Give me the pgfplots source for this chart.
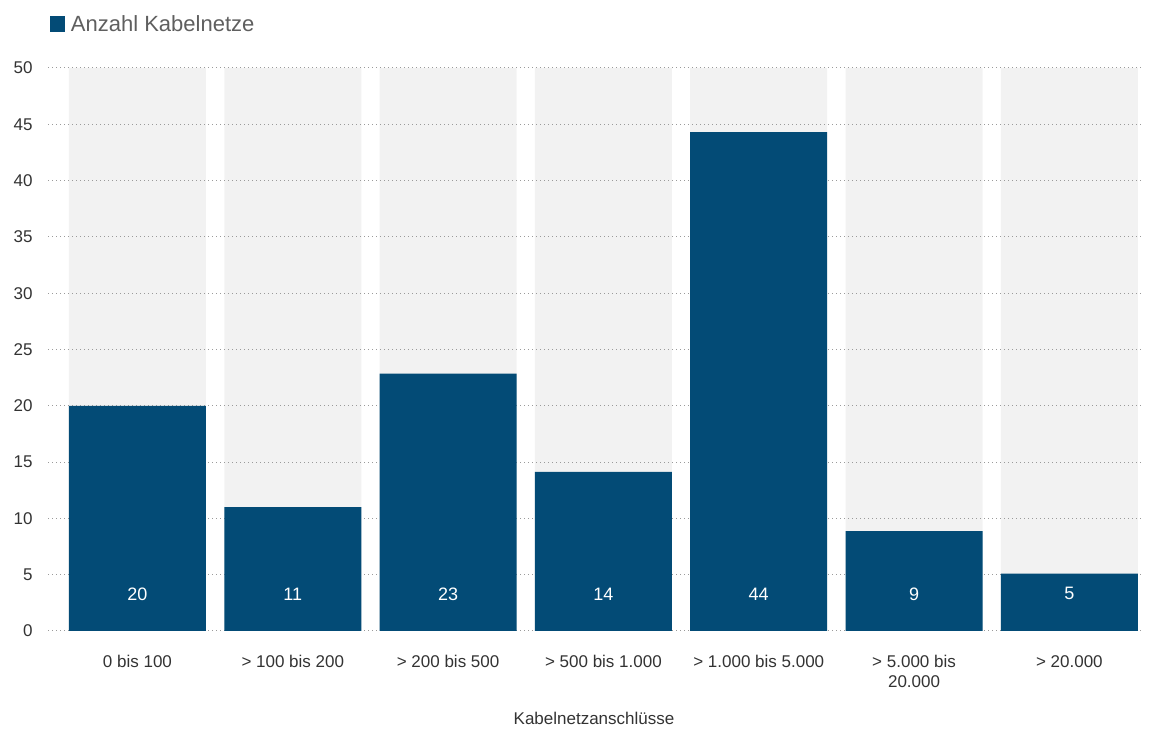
\documentclass[border=0pt]{standalone}
\usepackage{fontspec}
\setmainfont{Liberation Sans}
\usepackage{pgfplots}
\pgfplotsset{compat=1.18}
\usepackage{pgfplotstable}
\definecolor{barblue}{HTML}{034B76}
\definecolor{bggrey}{HTML}{F2F2F2}
\definecolor{txt}{HTML}{333333}
\definecolor{legtxt}{HTML}{5F5F5F}
\definecolor{gridc}{HTML}{9A9A9A}

\pgfplotstableread{
x y lab
0 20 20
1 11 11
2 22.85 23
3 14.14 14
4 44.3 44
5 8.88 9
6 5.1 5
}\datatable

\pgfplotstableread{
x y
0 50
1 50
2 50
3 50
4 50
5 50
6 50
}\bgtable

\begin{document}
\begin{tikzpicture}
\begin{axis}[
  at={(48bp,98bp)}, anchor=south west,
  scale only axis, width=1092bp, height=563bp,
  set layers=standard,
  xmin=-0.576, xmax=6.455, ymin=0, ymax=50,
  ytick={0,5,...,50},
  xtick={0,1,2,3,4,5,6},
  xticklabels={0 bis 100, > 100 bis 200, > 200 bis 500, > 500 bis 1.000, > 1.000 bis 5.000, {> 5.000 bis\\20.000}, > 20.000},
  /pgf/number format/assume math mode=true,
  axis line style={draw=none},
  major tick length=0pt,
  tick style={draw=none},
  ymajorgrids,
  grid style={gridc, line width=1bp, dash pattern=on 1bp off 3bp},
  ticklabel style={text=txt, font=\fontsize{17bp}{20bp}\selectfont},
  xticklabel style={anchor=north, yshift=-21bp, align=center},
  yticklabel style={anchor=east, xshift=-12bp},
  xlabel={Kabelnetzanschlüsse},
  xlabel style={at={(axis description cs:0.5,-0.1545)}, anchor=center, text=txt, font=\fontsize{17bp}{20bp}\selectfont},
  legend style={draw=none, fill=none, inner sep=0pt, outer sep=0pt,
    at={(axis description cs:0.0018,1.078)}, anchor=west, column sep=4bp,
    font=\fontsize{22bp}{24bp}\selectfont, text=legtxt},
  legend image code/.code={\fill[barblue] (0bp,-7.5bp) rectangle (15bp,8.5bp);},
]
\addplot[ybar, bar width=137bp, bar shift=0pt, fill=bggrey, draw=none, on layer=axis background, forget plot] table[x=x,y=y]{\bgtable};
\addplot[ybar, bar width=137bp, bar shift=0pt, fill=barblue, draw=none] table[x=x,y=y]{\datatable};
\addlegendentry{Anzahl Kabelnetze}
\addplot[draw=none, mark=none, forget plot, nodes near coords, point meta=explicit,
  nodes near coords style={text=white, anchor=center, font=\fontsize{18bp}{20bp}\selectfont}]
  table[x=x, y expr=3.3, meta=lab]{\datatable};
\end{axis}
\path (0,0) rectangle (1150bp,729bp);
\end{tikzpicture}
\end{document}
